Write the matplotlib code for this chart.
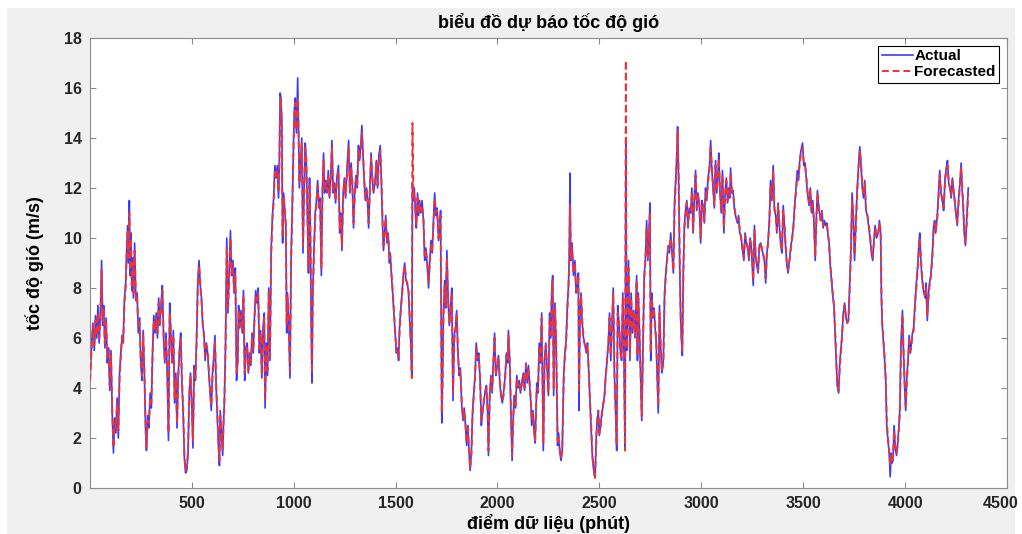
import numpy as np
import matplotlib
matplotlib.use("Agg")
import matplotlib.pyplot as plt
from matplotlib.patches import Rectangle
from matplotlib.transforms import ScaledTranslation

plt.rcParams['font.family'] = ['Liberation Sans', 'DejaVu Sans']

# data point index (minutes)
minute = [
    1, 8, 15, 22, 28, 34, 40, 46, 52, 58, 63, 68,
    74, 80, 86, 92, 98, 104, 110, 116, 122, 128, 134, 140,
    146, 152, 158, 164, 170, 176, 182, 186, 190, 194, 198, 202,
    206, 210, 214, 220, 226, 232, 238, 244, 250, 256, 262, 268,
    274, 278, 284, 290, 296, 302, 308, 314, 320, 326, 332, 338,
    344, 350, 356, 362, 368, 374, 380, 386, 392, 398, 404, 410,
    416, 422, 428, 434, 440, 446, 452, 458, 464, 470, 476, 482,
    488, 494, 500, 506, 512, 518, 524, 530, 536, 542, 548, 554,
    560, 566, 572, 578, 584, 590, 596, 602, 608, 614, 620, 626,
    632, 636, 640, 646, 652, 656, 660, 666, 672, 678, 684, 690,
    696, 702, 708, 714, 720, 726, 730, 736, 742, 748, 754, 760,
    766, 772, 778, 784, 790, 796, 802, 808, 814, 820, 826, 832,
    838, 844, 850, 856, 860, 866, 872, 878, 884, 890, 896, 902,
    908, 914, 920, 926, 930, 934, 938, 942, 946, 950, 956, 962,
    966, 970, 976, 982, 988, 994, 1000, 1004, 1008, 1014, 1020, 1024,
    1028, 1034, 1040, 1046, 1052, 1057, 1062, 1068, 1073, 1078, 1082, 1086,
    1090, 1094, 1100, 1106, 1112, 1118, 1124, 1130, 1136, 1142, 1147, 1152,
    1158, 1164, 1170, 1176, 1182, 1188, 1194, 1200, 1206, 1212, 1220, 1226,
    1232, 1237, 1243, 1249, 1255, 1262, 1270, 1276, 1282, 1288, 1294, 1300,
    1306, 1312, 1318, 1324, 1330, 1335, 1340, 1346, 1352, 1358, 1363, 1368,
    1374, 1380, 1386, 1392, 1400, 1406, 1412, 1418, 1425, 1430, 1436, 1441,
    1446, 1452, 1458, 1464, 1470, 1474, 1480, 1486, 1492, 1498, 1504, 1510,
    1515, 1520, 1526, 1532, 1539, 1545, 1551, 1558, 1564, 1570, 1575, 1580,
    1583, 1588, 1592, 1597, 1602, 1608, 1613, 1618, 1624, 1630, 1637, 1643,
    1649, 1655, 1662, 1668, 1674, 1680, 1686, 1692, 1698, 1704, 1711, 1717,
    1721, 1727, 1731, 1735, 1741, 1746, 1752, 1758, 1764, 1770, 1776, 1782,
    1788, 1794, 1800, 1806, 1812, 1818, 1825, 1831, 1837, 1843, 1849, 1855,
    1860, 1866, 1872, 1878, 1884, 1890, 1896, 1902, 1908, 1915, 1921, 1927,
    1933, 1940, 1946, 1952, 1956, 1962, 1968, 1974, 1980, 1986, 1992, 1998,
    2005, 2011, 2017, 2024, 2030, 2038, 2044, 2050, 2054, 2060, 2066, 2072,
    2076, 2082, 2089, 2095, 2101, 2107, 2113, 2119, 2127, 2133, 2140, 2146,
    2152, 2158, 2164, 2168, 2174, 2180, 2185, 2193, 2199, 2205, 2211, 2217,
    2222, 2225, 2231, 2237, 2243, 2250, 2256, 2262, 2266, 2271, 2276, 2282,
    2288, 2295, 2300, 2306, 2312, 2318, 2325, 2331, 2337, 2343, 2348, 2352,
    2356, 2360, 2366, 2373, 2380, 2386, 2392, 2397, 2400, 2405, 2410, 2416,
    2422, 2430, 2436, 2442, 2448, 2454, 2460, 2466, 2470, 2475, 2479, 2485,
    2490, 2495, 2500, 2506, 2512, 2519, 2525, 2531, 2537, 2544, 2550, 2556,
    2562, 2568, 2574, 2580, 2585, 2590, 2597, 2603, 2609, 2615, 2621, 2626,
    2630, 2634, 2638, 2643, 2650, 2656, 2662, 2668, 2675, 2683, 2687, 2691,
    2697, 2703, 2708, 2714, 2720, 2726, 2732, 2738, 2743, 2748, 2752, 2757,
    2763, 2768, 2773, 2779, 2785, 2789, 2795, 2801, 2807, 2814, 2820, 2826,
    2832, 2838, 2844, 2850, 2856, 2863, 2869, 2875, 2879, 2884, 2889, 2894,
    2899, 2903, 2907, 2912, 2917, 2923, 2929, 2935, 2941, 2948, 2954, 2960,
    2966, 2972, 2978, 2984, 2990, 2997, 3003, 3009, 3015, 3021, 3027, 3033,
    3040, 3046, 3052, 3058, 3064, 3070, 3076, 3082, 3086, 3092, 3098, 3104,
    3111, 3117, 3123, 3129, 3135, 3140, 3144, 3150, 3156, 3162, 3168, 3177,
    3183, 3189, 3195, 3201, 3209, 3215, 3221, 3227, 3234, 3240, 3246, 3250,
    3255, 3261, 3267, 3273, 3279, 3285, 3291, 3297, 3304, 3310, 3316, 3322,
    3328, 3334, 3340, 3346, 3353, 3359, 3365, 3371, 3377, 3383, 3390, 3396,
    3402, 3408, 3414, 3420, 3426, 3432, 3440, 3446, 3452, 3459, 3465, 3471,
    3477, 3483, 3489, 3497, 3503, 3509, 3515, 3521, 3529, 3535, 3541, 3547,
    3553, 3559, 3565, 3570, 3576, 3586, 3592, 3598, 3604, 3610, 3616, 3622,
    3627, 3633, 3639, 3645, 3651, 3657, 3662, 3667, 3674, 3680, 3686, 3691,
    3697, 3703, 3710, 3716, 3722, 3728, 3734, 3740, 3746, 3752, 3758, 3765,
    3770, 3773, 3778, 3784, 3790, 3796, 3802, 3808, 3815, 3821, 3828, 3835,
    3841, 3847, 3853, 3860, 3868, 3874, 3880, 3884, 3888, 3894, 3899, 3905,
    3910, 3916, 3922, 3927, 3932, 3936, 3941, 3946, 3952, 3958, 3964, 3969,
    3974, 3980, 3987, 3992, 3998, 4003, 4009, 4015, 4020, 4026, 4031, 4036,
    4042, 4047, 4052, 4058, 4063, 4068, 4072, 4077, 4082, 4088, 4093, 4098,
    4103, 4109, 4115, 4120, 4126, 4134, 4140, 4145, 4150, 4158, 4164, 4170,
    4176, 4183, 4189, 4196, 4202, 4208, 4214, 4220, 4226, 4232, 4238, 4244,
    4250, 4256, 4262, 4268, 4275, 4280, 4286, 4290, 4296, 4302, 4310,
]

# measured wind speed (m/s)
actual = [
    4.2, 5.6, 6.6, 5.5, 6.9, 6.0, 7.3, 5.8, 7.0, 9.1, 6.5, 7.3,
    5.6, 6.8, 5.0, 5.6, 3.9, 5.5, 3.0, 1.4, 2.8, 2.2, 3.6, 2.0,
    4.6, 5.4, 6.0, 5.9, 7.6, 8.2, 9.8, 10.5, 9.0, 11.5, 8.5, 10.2,
    7.9, 9.2, 7.6, 9.8, 7.5, 7.8, 6.2, 6.8, 5.0, 4.3, 6.3, 4.5,
    2.2, 1.5, 2.9, 2.4, 3.8, 3.2, 5.5, 6.9, 6.2, 7.0, 6.0, 7.6,
    6.5, 7.4, 8.1, 6.0, 5.0, 6.2, 4.6, 1.9, 7.4, 6.1, 5.0, 6.3,
    3.4, 4.6, 2.4, 4.6, 5.5, 6.2, 4.2, 3.0, 1.2, 0.6, 0.7, 1.4,
    3.8, 4.6, 3.4, 1.6, 4.9, 4.3, 6.0, 8.3, 9.1, 8.1, 7.6, 6.5,
    6.2, 5.1, 5.8, 5.4, 4.6, 3.8, 3.1, 4.6, 5.2, 6.1, 4.0, 2.7,
    1.5, 0.9, 3.1, 2.2, 1.3, 2.6, 3.4, 5.8, 10.0, 7.0, 8.6, 10.3,
    8.5, 9.1, 7.8, 8.8, 4.3, 5.1, 7.3, 6.4, 7.1, 6.2, 7.9, 4.3,
    5.6, 5.8, 4.6, 5.4, 4.9, 6.2, 5.4, 6.9, 7.9, 7.4, 8.0, 5.4,
    6.3, 4.4, 6.4, 7.0, 3.2, 5.8, 4.5, 8.0, 5.1, 9.6, 10.9, 11.6,
    12.9, 12.4, 12.9, 11.6, 13.0, 15.8, 15.6, 14.7, 9.8, 11.8, 11.2, 10.4,
    6.2, 7.8, 6.6, 4.4, 9.4, 11.5, 14.0, 15.2, 15.6, 14.2, 16.4, 14.4,
    12.0, 13.0, 14.0, 9.4, 12.2, 13.8, 13.1, 10.8, 8.6, 12.4, 10.4, 6.8,
    4.2, 7.8, 9.6, 11.0, 11.5, 12.3, 11.2, 11.6, 8.5, 12.1, 13.4, 11.8,
    12.3, 11.8, 12.7, 11.6, 12.4, 13.9, 11.8, 12.2, 11.4, 12.4, 12.9, 10.2,
    11.0, 9.5, 11.8, 12.4, 11.6, 12.8, 13.9, 11.8, 13.0, 12.1, 10.4, 11.9,
    12.5, 12.0, 13.7, 13.1, 13.8, 14.5, 13.4, 12.3, 11.5, 12.0, 11.4, 10.4,
    12.0, 13.4, 12.4, 11.8, 12.3, 13.1, 12.0, 13.3, 13.7, 12.4, 10.6, 9.5,
    10.2, 10.9, 9.8, 10.2, 9.0, 9.4, 8.5, 7.8, 7.0, 6.2, 5.4, 5.6,
    5.1, 6.5, 7.2, 7.8, 8.6, 9.0, 8.3, 8.2, 7.8, 6.6, 5.8, 4.4,
    12.2, 11.5, 12.0, 11.1, 10.4, 11.8, 10.9, 11.5, 11.0, 11.5, 10.7, 9.1,
    9.6, 9.0, 8.0, 9.1, 9.9, 9.4, 10.7, 11.8, 10.9, 11.2, 9.9, 10.4,
    11.1, 2.6, 4.5, 7.0, 8.3, 7.2, 9.5, 7.5, 6.5, 7.2, 8.0, 3.5,
    6.1, 6.4, 7.1, 5.4, 4.5, 4.8, 3.3, 2.7, 3.2, 2.5, 1.7, 2.5,
    1.6, 0.7, 1.4, 3.1, 3.8, 4.5, 5.8, 5.1, 5.4, 4.3, 2.5, 3.1,
    3.4, 3.9, 4.1, 3.0, 1.3, 3.7, 4.5, 3.8, 5.1, 6.2, 4.5, 4.8,
    5.3, 4.3, 3.7, 3.4, 3.8, 4.5, 5.4, 5.0, 6.3, 5.1, 3.0, 1.1,
    2.5, 3.7, 3.2, 4.5, 4.0, 4.3, 3.8, 4.2, 4.6, 3.9, 5.0, 4.2,
    4.9, 4.1, 3.4, 2.5, 3.1, 2.2, 1.8, 4.2, 3.8, 5.8, 5.0, 7.0,
    3.6, 1.5, 5.1, 5.8, 4.8, 3.7, 7.0, 6.0, 7.8, 8.5, 3.7, 7.4,
    5.8, 1.7, 2.2, 1.4, 1.1, 1.5, 4.5, 5.4, 5.9, 7.3, 8.0, 9.1,
    12.6, 9.1, 9.8, 8.5, 9.1, 7.8, 8.0, 8.6, 3.1, 7.0, 7.8, 6.6,
    6.0, 5.7, 5.4, 5.8, 4.6, 3.4, 2.3, 1.2, 0.9, 0.5, 0.45, 2.1,
    2.8, 3.0, 2.1, 2.5, 3.0, 3.3, 3.7, 4.5, 5.0, 5.8, 7.0, 5.1,
    6.6, 8.0, 4.5, 3.0, 1.5, 7.3, 6.5, 5.5, 5.1, 7.8, 5.2, 1.5,
    13.8, 5.5, 6.5, 9.1, 5.1, 7.8, 6.2, 7.1, 6.0, 8.5, 5.1, 7.8,
    6.2, 4.2, 2.7, 5.7, 8.5, 9.2, 10.7, 9.1, 10.0, 11.4, 5.1, 7.8,
    6.8, 7.2, 6.5, 5.8, 4.2, 3.0, 7.3, 5.6, 4.6, 5.1, 7.8, 8.6,
    9.2, 9.7, 9.4, 10.2, 9.5, 8.6, 11.5, 12.4, 13.1, 14.45, 12.3, 9.0,
    6.7, 5.9, 5.3, 8.7, 10.5, 11.1, 11.5, 10.4, 11.2, 11.0, 12.0, 10.2,
    11.6, 12.7, 11.1, 11.8, 11.4, 9.8, 11.5, 11.3, 10.6, 12.0, 11.5, 12.4,
    12.8, 13.9, 12.7, 12.0, 11.2, 13.1, 11.8, 12.6, 13.4, 11.8, 11.0, 12.7,
    10.2, 11.8, 12.4, 11.4, 12.0, 11.6, 12.8, 11.8, 11.9, 11.2, 10.9, 10.6,
    10.9, 10.2, 10.1, 9.6, 9.1, 10.2, 9.8, 9.7, 9.1, 10.0, 9.6, 8.9,
    8.1, 10.5, 9.2, 8.9, 8.6, 9.7, 9.8, 9.6, 9.3, 9.1, 8.2, 9.4,
    9.9, 10.7, 12.3, 11.5, 12.9, 11.1, 10.9, 10.2, 11.4, 10.5, 9.7, 9.4,
    11.3, 10.5, 9.6, 8.9, 8.6, 9.1, 9.7, 10.0, 10.5, 11.4, 12.0, 12.7,
    12.3, 13.1, 13.5, 13.8, 12.9, 13.0, 12.4, 11.8, 11.3, 12.0, 11.0, 11.5,
    10.6, 9.1, 10.9, 11.9, 11.2, 10.7, 11.1, 10.4, 10.7, 10.5, 10.6, 10.1,
    9.8, 8.9, 8.3, 7.7, 7.3, 6.1, 5.0, 4.1, 3.8, 5.1, 5.6, 6.2,
    7.0, 7.4, 6.8, 6.6, 6.7, 8.1, 9.5, 11.8, 10.8, 9.1, 10.5, 12.0,
    12.6, 13.1, 13.65, 12.9, 12.0, 11.6, 12.3, 11.1, 10.9, 10.5, 10.0, 9.4,
    9.1, 9.9, 10.5, 10.0, 10.2, 10.7, 10.2, 7.5, 6.5, 5.8, 5.2, 4.3,
    2.5, 1.9, 1.4, 0.45, 1.4, 1.0, 1.1, 2.5, 1.6, 1.3, 1.8, 2.4,
    3.1, 5.8, 7.1, 5.5, 4.0, 3.1, 4.5, 5.2, 6.1, 5.4, 5.8, 6.2,
    6.4, 7.2, 7.8, 8.5, 9.0, 9.8, 10.2, 9.2, 8.5, 8.0, 7.8, 7.6,
    8.2, 6.7, 7.8, 8.2, 8.5, 9.4, 10.5, 10.7, 10.2, 10.9, 11.8, 12.7,
    11.8, 11.5, 11.1, 12.4, 12.8, 13.1, 12.2, 12.0, 11.6, 12.4, 11.9, 11.4,
    10.9, 10.5, 11.5, 12.1, 13.0, 12.0, 11.0, 10.2, 9.7, 10.7, 12.0,
]

# forecasted wind speed (m/s)
forecast = [
    4.3, 5.4, 6.5, 5.7, 6.7, 6.1, 7.0, 6.0, 6.8, 8.7, 6.7, 7.1,
    5.8, 6.6, 5.2, 5.5, 4.1, 5.3, 3.2, 1.6, 2.6, 2.4, 3.4, 2.3,
    4.4, 5.2, 6.1, 5.8, 7.4, 8.0, 9.6, 10.3, 9.2, 11.0, 8.7, 10.0,
    8.1, 9.0, 7.8, 9.5, 7.6, 7.7, 6.4, 6.6, 5.2, 4.5, 6.1, 4.7,
    2.4, 1.6, 2.7, 2.6, 3.6, 3.4, 5.3, 6.7, 6.3, 6.8, 6.2, 7.4,
    6.6, 7.2, 7.9, 6.2, 5.1, 6.0, 4.8, 2.2, 7.0, 6.2, 5.1, 6.1,
    3.6, 4.4, 2.6, 4.4, 5.4, 6.0, 4.4, 3.2, 1.4, 0.7, 0.8, 1.5,
    3.6, 4.5, 3.5, 1.9, 4.7, 4.4, 5.8, 8.1, 8.9, 8.2, 7.5, 6.6,
    6.1, 5.3, 5.7, 5.5, 4.7, 3.9, 3.3, 4.4, 5.1, 5.9, 4.2, 2.9,
    1.7, 1.1, 2.9, 2.4, 1.5, 2.5, 3.3, 5.6, 9.6, 7.2, 8.4, 10.0,
    8.6, 8.9, 7.9, 8.6, 4.6, 5.0, 7.1, 6.5, 6.9, 6.3, 7.7, 4.6,
    5.4, 5.7, 4.7, 5.3, 5.0, 6.0, 5.5, 6.7, 7.7, 7.5, 7.8, 5.6,
    6.2, 4.6, 6.2, 6.8, 3.5, 5.6, 4.7, 7.8, 5.3, 9.3, 10.7, 11.4,
    12.7, 12.5, 12.7, 11.8, 12.8, 15.6, 15.4, 14.5, 10.1, 11.6, 11.3, 10.5,
    6.5, 7.6, 6.7, 4.7, 9.1, 11.3, 13.8, 15.0, 15.4, 14.3, 15.6, 14.5,
    12.2, 12.8, 13.8, 9.7, 12.0, 13.6, 13.2, 10.9, 8.8, 12.1, 10.5, 7.0,
    4.6, 7.6, 9.4, 10.8, 11.4, 12.1, 11.3, 11.5, 8.8, 11.9, 13.1, 11.9,
    12.2, 11.9, 12.5, 11.7, 12.3, 13.6, 11.9, 12.1, 11.5, 12.3, 12.7, 10.4,
    10.9, 9.7, 11.6, 12.3, 11.7, 12.6, 13.6, 11.9, 12.8, 12.2, 10.6, 11.7,
    12.4, 12.1, 13.5, 13.2, 13.6, 14.2, 13.5, 12.4, 11.6, 11.9, 11.5, 10.6,
    11.8, 13.2, 12.5, 11.9, 12.2, 13.0, 12.1, 13.1, 13.5, 12.5, 10.8, 9.7,
    10.1, 10.8, 9.9, 10.1, 9.1, 9.3, 8.6, 7.9, 7.1, 6.3, 5.5, 5.5,
    5.2, 6.3, 7.1, 7.7, 8.5, 8.9, 8.4, 8.1, 7.9, 6.8, 5.9, 4.4,
    14.6, 11.6, 11.8, 11.2, 10.5, 11.6, 11.0, 11.4, 11.1, 11.3, 10.8, 9.3,
    9.5, 9.1, 8.2, 9.0, 9.7, 9.5, 10.5, 11.6, 11.0, 11.1, 10.0, 10.3,
    10.9, 3.0, 4.3, 6.8, 8.1, 7.3, 9.2, 7.6, 6.6, 7.1, 7.8, 3.8,
    5.9, 6.3, 7.0, 5.5, 4.6, 4.7, 3.4, 2.8, 3.1, 2.6, 1.8, 2.4,
    1.7, 0.8, 1.3, 2.9, 3.7, 4.4, 5.6, 5.2, 5.3, 4.4, 2.7, 3.0,
    3.5, 3.8, 4.0, 3.1, 1.5, 3.6, 4.4, 3.9, 5.0, 6.0, 4.6, 4.7,
    5.2, 4.4, 3.8, 3.5, 3.7, 4.4, 5.3, 5.1, 6.1, 5.2, 3.2, 1.3,
    2.4, 3.6, 3.3, 4.4, 4.1, 4.2, 3.9, 4.1, 4.5, 4.0, 4.9, 4.3,
    4.8, 4.2, 3.5, 2.7, 3.0, 2.4, 1.9, 4.0, 3.9, 5.6, 5.1, 6.8,
    3.9, 1.8, 4.9, 5.7, 4.9, 3.8, 6.8, 6.1, 7.6, 8.3, 4.0, 7.2,
    5.9, 1.9, 2.1, 1.5, 1.2, 1.6, 4.3, 5.3, 5.8, 7.1, 7.9, 8.9,
    11.3, 9.2, 9.6, 8.6, 9.0, 7.9, 7.9, 8.5, 3.8, 6.8, 7.7, 6.7,
    6.1, 5.6, 5.5, 5.7, 4.7, 3.5, 2.5, 1.3, 1.0, 0.6, 0.4, 1.9,
    2.7, 3.1, 2.2, 2.4, 2.9, 3.4, 3.6, 4.4, 5.1, 5.7, 6.8, 5.3,
    6.4, 7.8, 4.7, 3.2, 1.7, 7.0, 6.6, 5.4, 5.2, 7.6, 5.3, 1.5,
    17.1, 5.6, 6.4, 8.8, 5.3, 7.6, 6.3, 7.0, 6.1, 8.3, 5.3, 7.6,
    6.3, 4.4, 2.9, 5.5, 8.3, 9.1, 10.4, 9.2, 9.8, 11.0, 5.4, 7.6,
    6.9, 7.1, 6.6, 5.9, 4.4, 3.3, 7.0, 5.7, 4.7, 5.0, 7.6, 8.5,
    9.1, 9.6, 9.5, 10.0, 9.6, 8.7, 11.2, 12.2, 13.0, 14.3, 12.5, 9.3,
    6.9, 6.0, 5.5, 8.5, 10.3, 11.0, 11.4, 10.5, 11.1, 11.1, 11.8, 10.3,
    11.5, 12.5, 11.2, 11.7, 11.5, 10.0, 11.3, 11.4, 10.7, 11.8, 11.6, 12.2,
    12.7, 13.6, 12.8, 12.1, 11.3, 12.9, 11.9, 12.5, 13.2, 11.9, 11.1, 12.5,
    10.4, 11.7, 12.3, 11.5, 11.9, 11.7, 12.6, 11.9, 11.8, 11.3, 10.9, 10.7,
    10.8, 10.3, 10.0, 9.7, 9.2, 10.1, 9.9, 9.6, 9.2, 9.9, 9.7, 9.0,
    8.3, 10.3, 9.3, 8.9, 8.7, 9.6, 9.8, 9.6, 9.4, 9.1, 8.4, 9.3,
    9.8, 10.6, 12.1, 11.6, 12.7, 11.2, 10.9, 10.3, 11.3, 10.6, 9.8, 9.5,
    11.1, 10.6, 9.7, 9.0, 8.7, 9.0, 9.6, 10.0, 10.4, 11.3, 11.9, 12.5,
    12.4, 13.0, 13.4, 13.6, 13.0, 12.9, 12.5, 11.9, 11.4, 11.9, 11.1, 11.4,
    10.7, 9.3, 10.7, 11.8, 11.3, 10.7, 11.0, 10.5, 10.6, 10.5, 10.5, 10.2,
    9.8, 9.0, 8.4, 7.8, 7.3, 6.3, 5.2, 4.2, 3.9, 4.9, 5.5, 6.1,
    6.9, 7.3, 6.9, 6.6, 6.7, 7.9, 9.3, 11.5, 10.9, 9.3, 10.3, 11.8,
    12.5, 13.0, 13.5, 13.0, 12.1, 11.7, 12.2, 11.2, 10.9, 10.6, 10.1, 9.5,
    9.2, 9.8, 10.4, 10.1, 10.1, 10.6, 10.3, 7.8, 6.6, 5.9, 5.3, 4.4,
    2.7, 2.0, 1.5, 0.9, 1.3, 1.1, 1.2, 2.3, 1.7, 1.4, 1.7, 2.3,
    3.0, 5.5, 6.9, 5.6, 4.2, 3.3, 4.3, 5.1, 5.9, 5.5, 5.7, 6.1,
    6.3, 7.0, 7.7, 8.3, 8.9, 9.6, 10.0, 9.3, 8.6, 8.1, 7.8, 7.7,
    8.0, 6.9, 7.6, 8.1, 8.4, 9.2, 10.3, 10.6, 10.3, 10.8, 11.6, 12.5,
    11.9, 11.5, 11.2, 12.2, 12.7, 12.9, 12.3, 12.0, 11.7, 12.3, 11.9, 11.5,
    11.0, 10.6, 11.3, 12.0, 12.8, 12.1, 11.2, 10.4, 9.8, 10.5, 11.8,
]

x_ticks = [500, 1000, 1500, 2000, 2500, 3000, 3500, 4000, 4500]
y_ticks = [0, 2, 4, 6, 8, 10, 12, 14, 16, 18]

fig = plt.figure(figsize=(10.22, 5.34), dpi=100, facecolor='white')
# grey MATLAB figure background (screenshot has a thin white margin)
fig.patches.append(Rectangle((7 / 1022, 0), 1008 / 1022, 526 / 534,
                             transform=fig.transFigure, facecolor='#f0f0f0',
                             edgecolor='none', zorder=-10))

ax = fig.add_axes([90 / 1022, 46 / 534, 917 / 1022, 450 / 534])
ax.set_facecolor('white')

ax.plot(minute, actual, color='#3a3aff', lw=1.2, label='Actual', zorder=2)
ax.plot(minute, forecast, color='#e8343a', lw=1.4, ls=(0, (3.5, 2)),
        label='Forecasted', zorder=3)

ax.set_xlim(1, 4500)
ax.set_ylim(0, 18)
ax.set_xticks(x_ticks)
ax.set_yticks(y_ticks)
ax.tick_params(direction='in', top=True, right=True, length=4, width=0.8,
               color='#8c8c8c', labelsize=11.5, pad=6)
for lab in ax.get_xticklabels() + ax.get_yticklabels():
    lab.set_fontweight('bold')
    lab.set_color('#262626')
# last x label sits on the image edge; nudge it in a little
last = ax.get_xticklabels()[-1]
last.set_transform(last.get_transform() +
                   ScaledTranslation(-6 / 100, 0, fig.dpi_scale_trans))
for s in ax.spines.values():
    s.set_color('#8c8c8c')
    s.set_linewidth(0.8)

ax.set_title('biểu đồ dự báo tốc độ gió', fontsize=13, fontweight='bold',
             pad=7)
ax.set_xlabel('điểm dữ liệu (phút)', fontsize=13, fontweight='bold',
              labelpad=2)
ax.set_ylabel('tốc độ gió (m/s)', fontsize=13, fontweight='bold',
              labelpad=14)

leg = ax.legend(loc='upper right', fancybox=False, framealpha=1,
                edgecolor='black', handlelength=2.0, handletextpad=0.1,
                borderpad=0.25, labelspacing=0.12, borderaxespad=0.5,
                prop={'weight': 'bold', 'size': 11})
leg.get_frame().set_linewidth(0.8)

plt.savefig('out.png', dpi=100, facecolor=fig.get_facecolor())
